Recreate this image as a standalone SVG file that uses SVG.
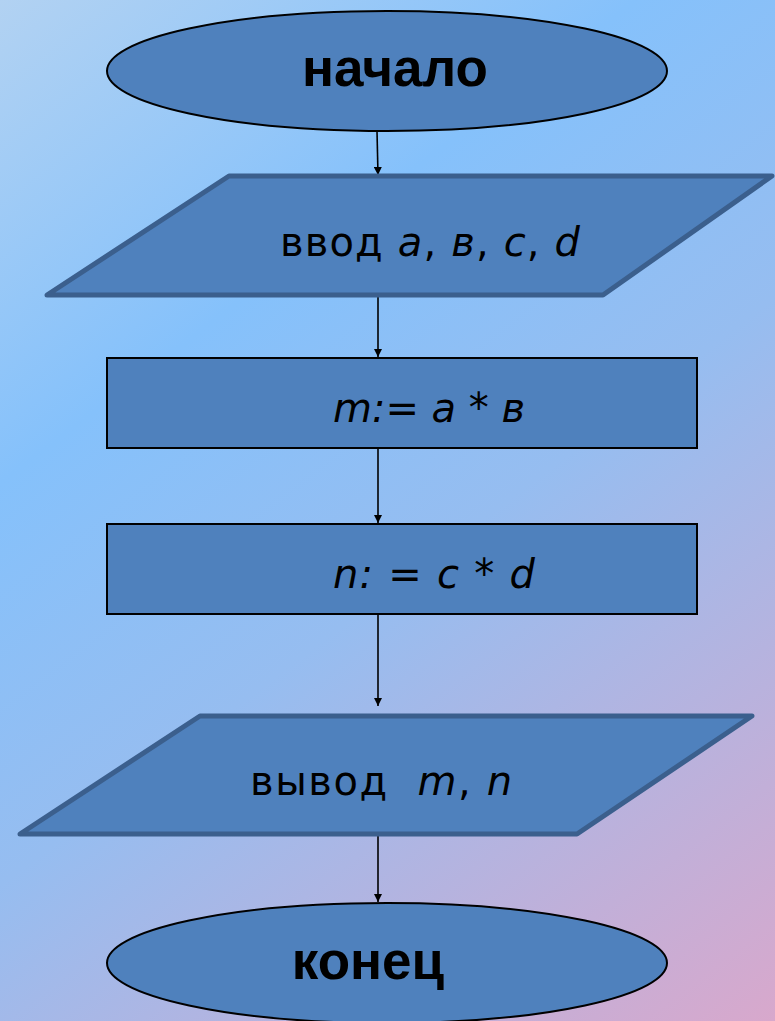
<svg xmlns="http://www.w3.org/2000/svg" width="775" height="1021" viewBox="0 0 775 1021">
  <defs>
    <linearGradient id="bg" gradientUnits="userSpaceOnUse" x1="0" y1="0" x2="775" y2="1021">
      <stop offset="0" stop-color="#b2d2f2"/>
      <stop offset="0.3" stop-color="#85c1fb"/>
      <stop offset="0.55" stop-color="#96bdf0"/>
      <stop offset="1" stop-color="#d8a8cc"/>
    </linearGradient>
    <marker id="arr" viewBox="0 0 10 10" refX="10" refY="5" markerWidth="10" markerHeight="8" markerUnits="userSpaceOnUse" orient="auto">
      <path d="M0,0 L10,5 L0,10 z" fill="#000"/>
    </marker>
    <style>
      .term { fill: #4f81bd; stroke: #000; stroke-width: 2; }
      .io { fill: #4f81bd; stroke: #3b5f8d; stroke-width: 5; stroke-linejoin: round; }
      .proc { fill: #4f81bd; stroke: #000; stroke-width: 2; }
      .bold { font-family: "Liberation Sans", Arial, sans-serif; font-weight: bold; font-size: 53px; fill: #000; }
      .lbl { font-family: "DejaVu Sans", "Liberation Sans", sans-serif; font-size: 40px; fill: #000; }
      .it { font-style: italic; }
      .conn line { stroke: #000; stroke-width: 1.6; marker-end: url(#arr); }
    </style>
  </defs>
  <rect x="0" y="0" width="775" height="1021" fill="url(#bg)"/>

  <g id="connectors" class="conn">
    <line x1="377" y1="131" x2="378" y2="175"/>
    <line x1="378" y1="297" x2="378" y2="357"/>
    <line x1="378" y1="449" x2="378" y2="523"/>
    <line x1="378" y1="615" x2="378" y2="706"/>
    <line x1="378" y1="836" x2="378" y2="902"/>
  </g>

  <g id="start">
    <ellipse class="term" cx="387" cy="71" rx="280" ry="60"/>
    <text class="bold" x="395" y="86" text-anchor="middle">начало</text>
  </g>

  <g id="input">
    <polygon class="io" points="229,176 772,176 603,295 47,295"/>
    <text class="lbl" x="280" y="256" textLength="300" lengthAdjust="spacing">ввод <tspan class="it">a</tspan>, <tspan class="it">в</tspan>, <tspan class="it">c</tspan>, <tspan class="it">d</tspan></text>
  </g>

  <g id="calc-m">
    <rect class="proc" x="107" y="358" width="590" height="90"/>
    <text class="lbl it" x="333" y="422" textLength="192" lengthAdjust="spacing">m:= a * в</text>
  </g>

  <g id="calc-n">
    <rect class="proc" x="107" y="524" width="590" height="90"/>
    <text class="lbl it" x="333" y="588" textLength="202" lengthAdjust="spacing">n: = c * d</text>
  </g>

  <g id="output">
    <polygon class="io" points="200,716 752,716 577,834 20,834"/>
    <text class="lbl" x="250" y="795" xml:space="preserve" textLength="262" lengthAdjust="spacing">вывод  <tspan class="it">m</tspan>, <tspan class="it">n</tspan></text>
  </g>

  <g id="end">
    <ellipse class="term" cx="387" cy="963" rx="280" ry="60"/>
    <text class="bold" x="368" y="979" text-anchor="middle">конец</text>
  </g>
</svg>
